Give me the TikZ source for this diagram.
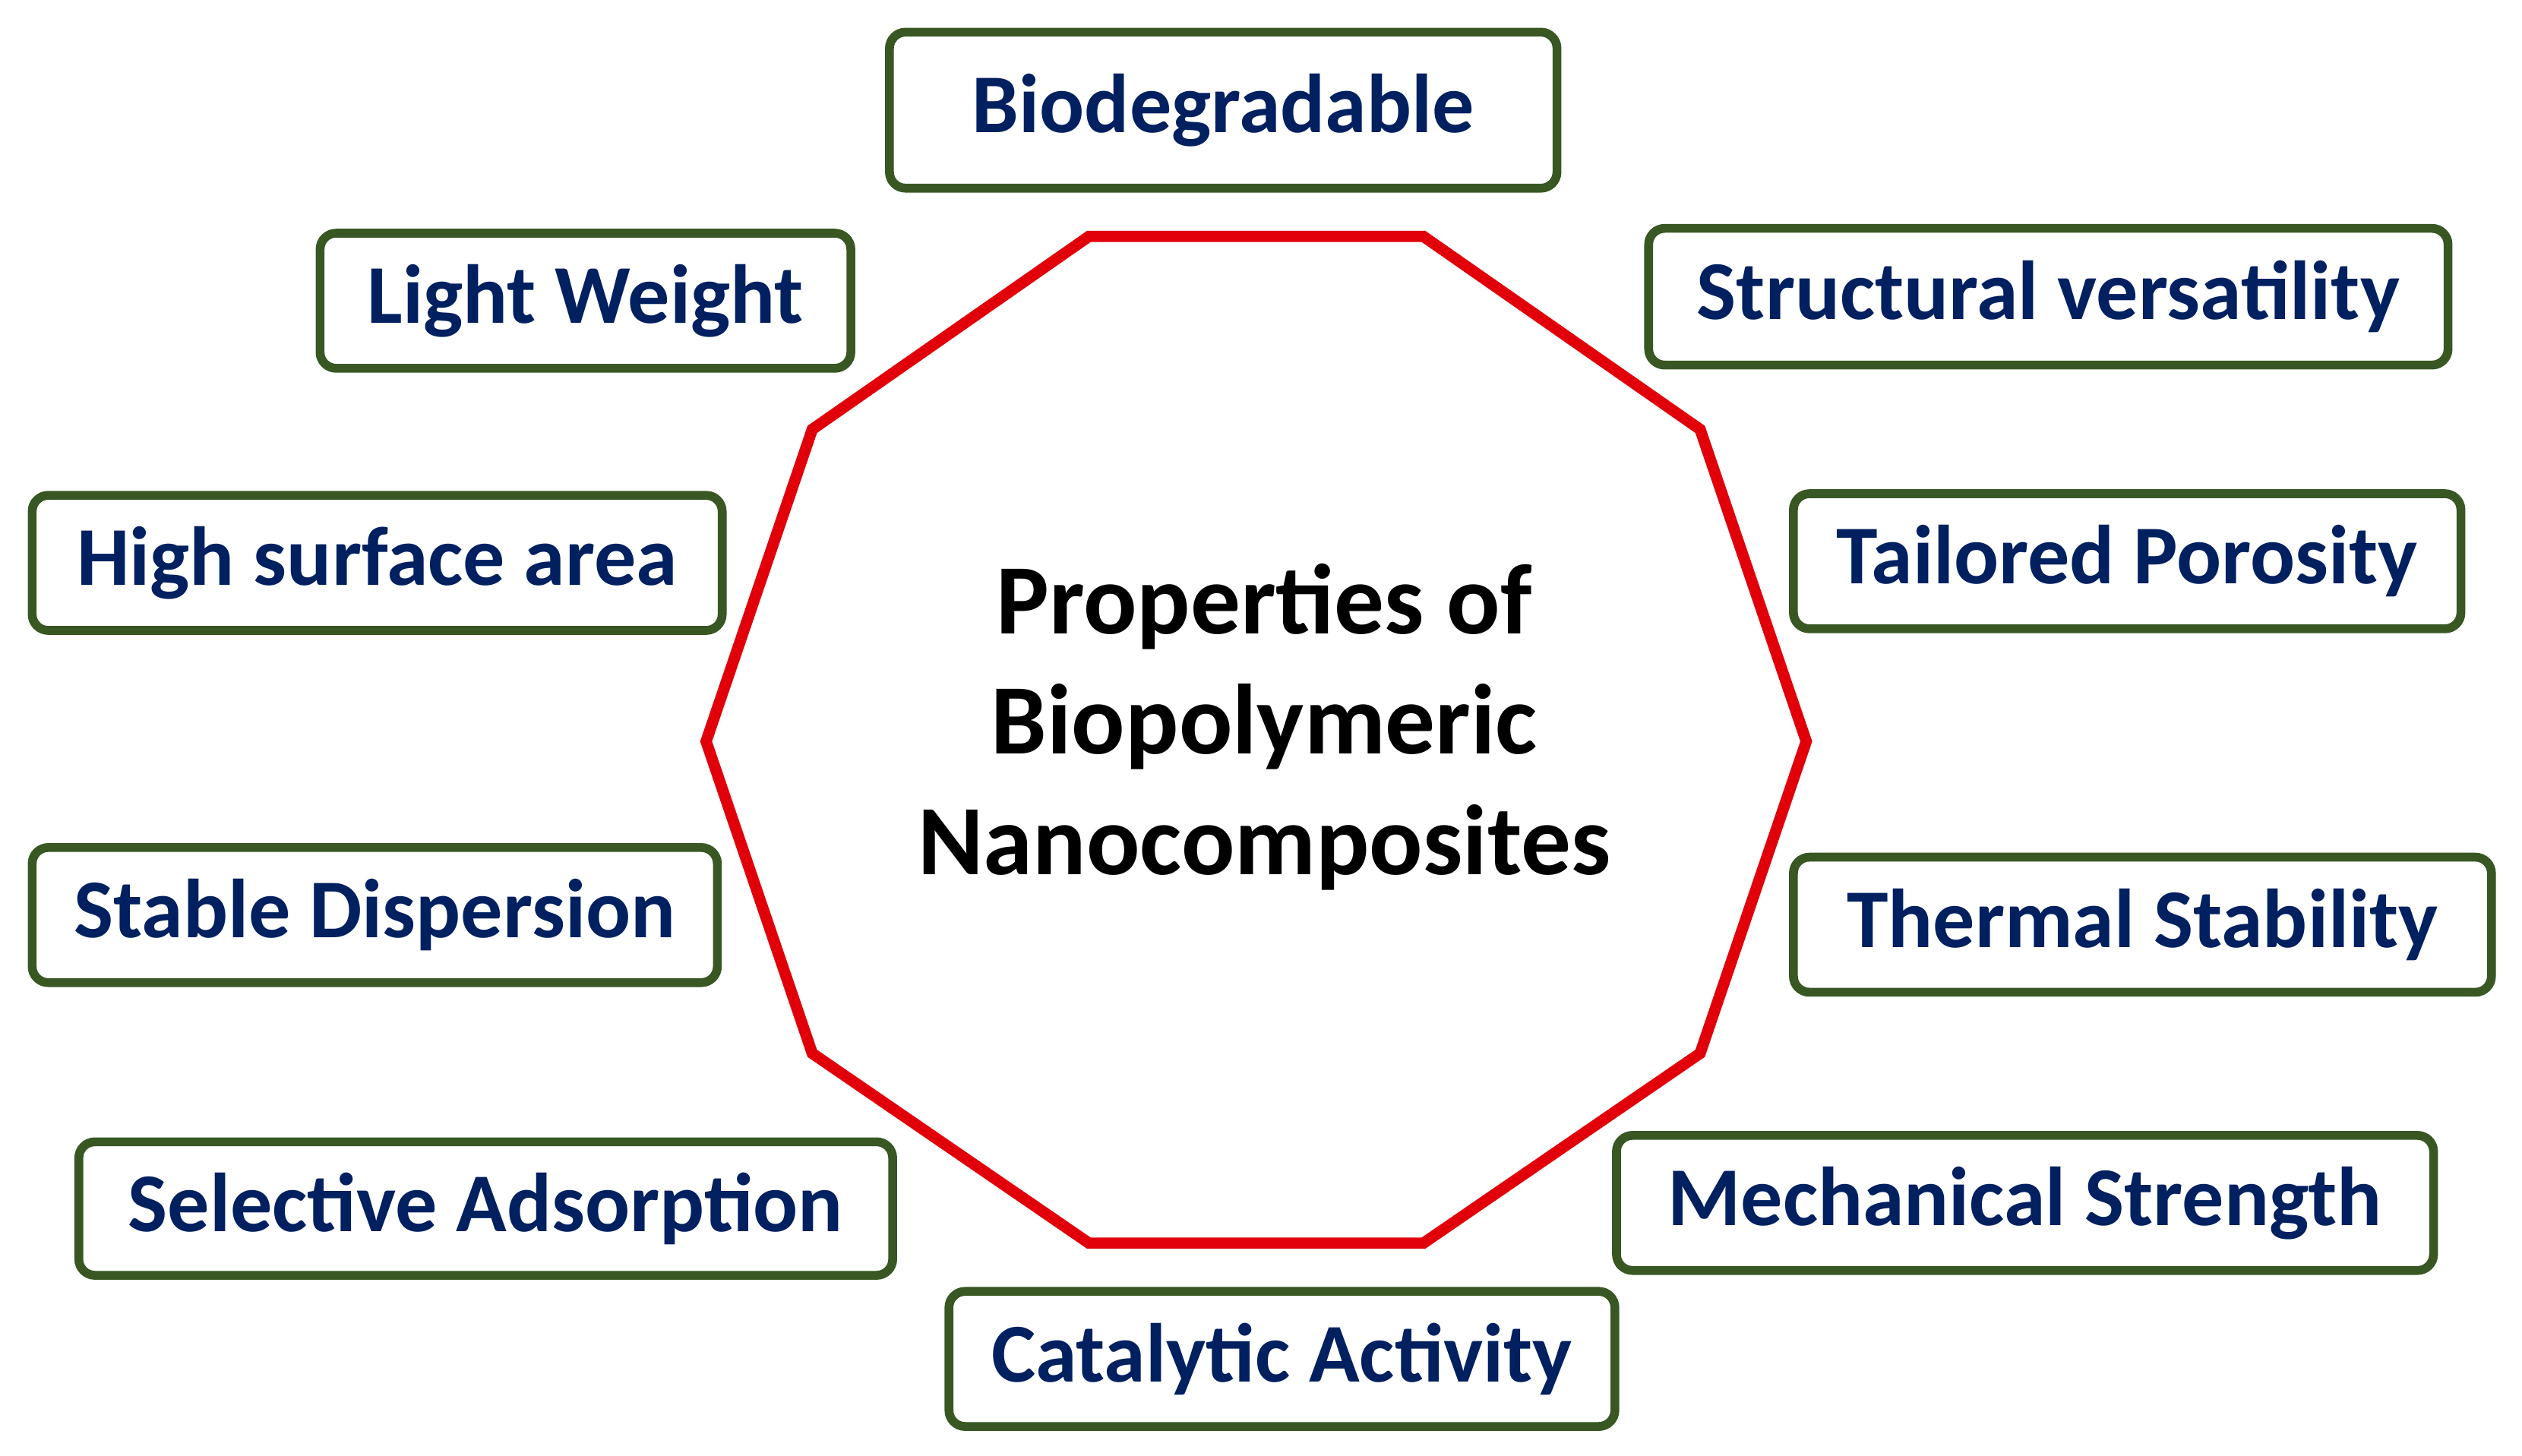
\documentclass[tikz,border=0pt]{standalone}
\usepackage{fontspec}
\setmainfont{Carlito}
\definecolor{navy}{RGB}{0,32,96}
\definecolor{bgreen}{RGB}{56,87,35}
\definecolor{dred}{RGB}{225,0,10}
\begin{document}
\begin{tikzpicture}[x=1pt,y=-1pt,
  prop/.style={draw=bgreen,line width=5.5pt,rounded corners=10pt,inner sep=0pt,
    text=navy,font=\fontsize{52}{58}\selectfont\bfseries},
  center/.style={align=center,font=\fontsize{62}{75}\selectfont\bfseries}]
\useasboundingbox (0,0) rectangle (1568,905);
\draw[dred,line width=7pt,line join=miter] (677,147)--(885,147)--(1057,267)--(1123,461)--(1057,655)--(885,773)--(677,773)--(505,655)--(439,461)--(505,267)--cycle;
\node[center] (c) at (786,452) {Properties of\\Biopolymeric\\Nanocomposites};
\node[prop,minimum width=415,minimum height=97] (a) at (760.5,68.5) {Biodegradable};
\node[prop,minimum width=330,minimum height=84] (b) at (364,187) {Light Weight};
\node[prop,minimum width=497,minimum height=85] (s) at (1273.5,184.5) {Structural versatility};
\node[prop,minimum width=429,minimum height=84] (h) at (234.5,350) {High surface area};
\node[prop,minimum width=415,minimum height=84] (t) at (1322.5,349) {Tailored Porosity};
\node[prop,minimum width=426,minimum height=84] (d) at (233,569) {Stable Dispersion};
\node[prop,minimum width=434,minimum height=84] (th) at (1332,575) {Thermal Stability};
\node[prop,minimum width=506,minimum height=83] (se) at (302,751.5) {Selective Adsorption};
\node[prop,minimum width=508,minimum height=84] (m) at (1259,748) {Mechanical Strength};
\node[prop,minimum width=414,minimum height=84] (ca) at (797,845) {Catalytic Activity};
\end{tikzpicture}
\end{document}
